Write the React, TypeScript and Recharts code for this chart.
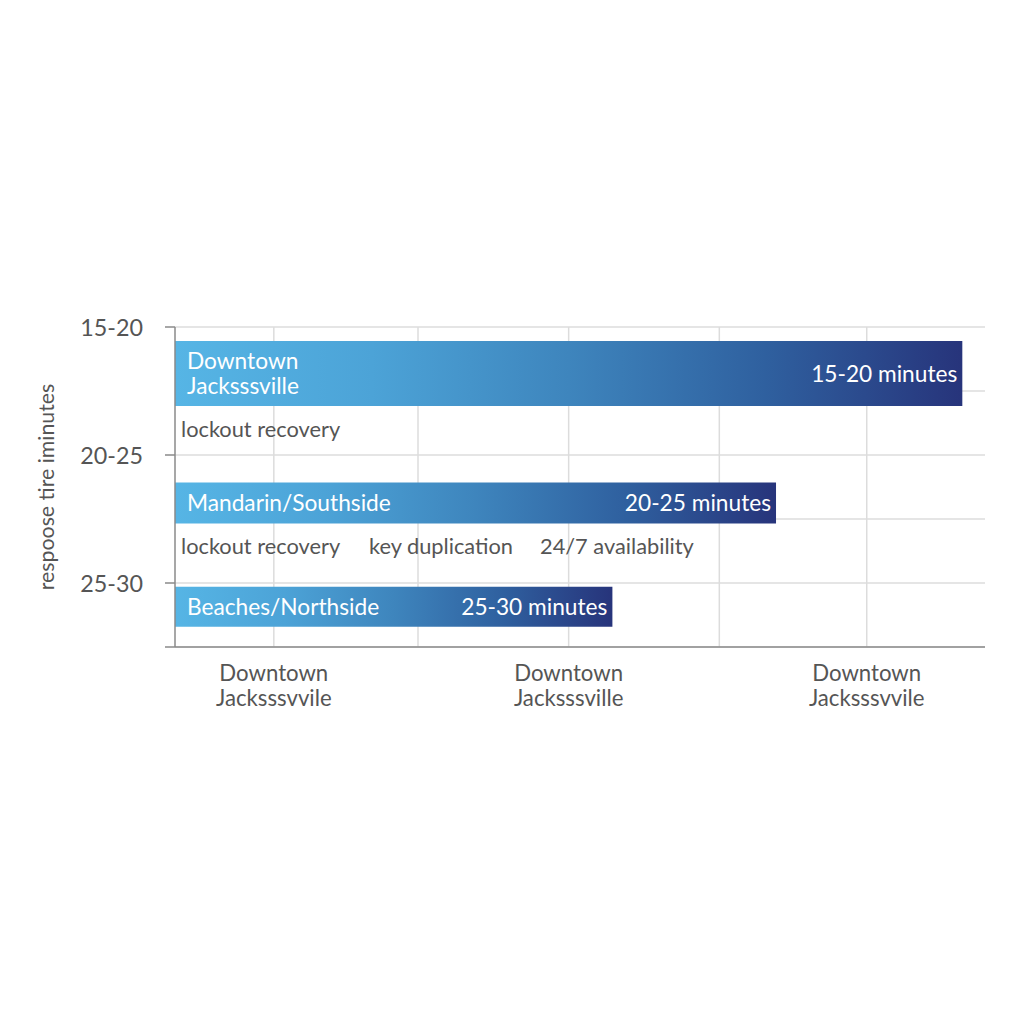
import {
  ComposedChart,
  Bar,
  Scatter,
  XAxis,
  YAxis,
  CartesianGrid,
  LabelList,
} from "recharts";

// areas, drawn top to bottom
const areas = ["Downtown\nJacksssville", "Mandarin/Southside", "Beaches/Northside"];
const responseLabels = ["15-20 minutes", "20-25 minutes", "25-30 minutes"];
const coverage = [97.2, 74.2, 54.0];
const rowPosition = [16.82, 21.88, 25.92];

// y axis (response time) ticks and their labels
const yTicks = [15, 17.5, 20, 22.5, 25, 27.5];
const yTickLabels: Record<number, string> = { 15: "15-20", 20: "20-25", 25: "25-30" };

// x axis ticks and labels
const xDomain = [0, 100];
const xTicks = [12.2, 30, 48.6, 67.2, 85.4];
const xTickLabels = [
  "Downtown\nJacksssvvile",
  "",
  "Downtown\nJacksssville",
  "",
  "Downtown\nJacksssvvile",
];

// service notes written under the bars
const serviceNames = ["lockout recovery", "lockout recovery", "key duplication", "24/7 availability"];
const serviceX = [0.74, 0.74, 23.95, 45.06];
const serviceY = [18.98, 23.52, 23.52, 23.52];

const barThickness = [65, 41, 40];

const FONT = "Lato, 'Open Sans', sans-serif";
const TEXT = "#555555";
const AXIS = "#8a8a8a";
const GRID = "#dcdcdc";

const rows = areas.map((area, i) => ({
  area,
  time: responseLabels[i],
  row: rowPosition[i],
  [`v${i}`]: coverage[i],
}));

const services = serviceNames.map((name, i) => ({
  name,
  value: serviceX[i],
  row: serviceY[i],
}));

const YTick = (props: any) => {
  const { x, y, payload } = props;
  const label = yTickLabels[payload.value];
  const showLine = label !== undefined || payload.value === 27.5;
  return (
    <g>
      {showLine && <line x1={x + 22} x2={x + 32} y1={y} y2={y} stroke={AXIS} strokeWidth={1.5} />}
      {label && (
        <text x={x} y={y} textAnchor="end" dominantBaseline="central" fill={TEXT} fontSize={23.3} fontFamily={FONT}>
          {label}
        </text>
      )}
    </g>
  );
};

const XTick = (props: any) => {
  const { x, y, index } = props;
  const label = xTickLabels[index] || "";
  if (!label) return null;
  const lines = label.split("\n");
  return (
    <text x={x} y={y} textAnchor="middle" fill={TEXT} fontSize={22.2} fontFamily={FONT}>
      {lines.map((line, i) => (
        <tspan key={i} x={x} dy={25} dominantBaseline="central">
          {line}
        </tspan>
      ))}
    </text>
  );
};

const AreaLabel = (props: any) => {
  const { x, y, height, value } = props;
  if (value === undefined || value === null) return null;
  const lines = String(value).split("\n");
  const cy = y + height / 2;
  const lh = 25;
  const start = cy - ((lines.length - 1) * lh) / 2;
  return (
    <text fill="#ffffff" fontSize={22.7} fontFamily={FONT}>
      {lines.map((line, i) => (
        <tspan key={i} x={x + 12} y={start + i * lh} dominantBaseline="central">
          {line}
        </tspan>
      ))}
    </text>
  );
};

const TimeLabel = (props: any) => {
  const { x, y, width, height, value } = props;
  if (!value) return null;
  return (
    <text
      x={x + width - 5}
      y={y + height / 2}
      textAnchor="end"
      dominantBaseline="central"
      fill="#ffffff"
      fontSize={22.7}
      fontFamily={FONT}
    >
      {value}
    </text>
  );
};

const ServiceText = (props: any) => {
  const { cx, cy, payload } = props;
  return (
    <text x={cx} y={cy} dominantBaseline="central" fill={TEXT} fontSize={21.8} fontFamily={FONT}>
      {payload.name}
    </text>
  );
};

// vertical grid only at the x ticks (no line on the right edge)
const verticalGrid = (args: any) => {
  const xAxis = args?.xAxis;
  if (xAxis && typeof xAxis.scale === "function") return xTicks.map((t) => xAxis.scale(t));
  if (xAxis && xAxis.scale && typeof xAxis.scale.map === "function") return xTicks.map((t) => xAxis.scale.map(t));
  const off = args?.offset;
  if (!off) return [];
  const span = xDomain[1] - xDomain[0];
  return xTicks.map((t) => off.left + ((t - xDomain[0]) / span) * off.width);
};

const App = () => {
  return (
    <div style={{ width: 1008, height: 1000, background: "#ffffff" }}>
      <ComposedChart
        width={1008}
        height={1000}
        data={rows}
        layout="vertical"
        margin={{ top: 319, right: 31, bottom: 331, left: 0 }}
      >
        <defs>
          <linearGradient id="barGrad" x1="0" y1="0" x2="1" y2="0">
            <stop offset="0%" stopColor="#56b5e5" />
            <stop offset="25%" stopColor="#4ca3d7" />
            <stop offset="50%" stopColor="#3e85bd" />
            <stop offset="75%" stopColor="#2f609f" />
            <stop offset="100%" stopColor="#27347b" />
          </linearGradient>
        </defs>
        <CartesianGrid
          yAxisId="main"
          stroke={GRID}
          strokeWidth={1.5}
          verticalCoordinatesGenerator={verticalGrid}
        />
        <XAxis
          type="number"
          domain={xDomain}
          ticks={xTicks}
          tick={<XTick />}
          tickLine={false}
          tickSize={0}
          tickMargin={0}
          axisLine={{ stroke: AXIS, strokeWidth: 1.5 }}
          interval={0}
        />
        <YAxis
          yAxisId="main"
          type="number"
          dataKey="row"
          domain={[15, 27.5]}
          ticks={yTicks}
          interval={0}
          width={167}
          tick={<YTick />}
          tickLine={false}
          tickSize={10}
          tickMargin={22}
          axisLine={{ stroke: AXIS, strokeWidth: 1.5 }}
          allowDataOverflow
          label={{
            content: ({ viewBox }: any) => (
              <text
                x={viewBox.x + 38}
                y={viewBox.y + viewBox.height / 2}
                transform={`rotate(-90 ${viewBox.x + 38} ${viewBox.y + viewBox.height / 2})`}
                textAnchor="middle"
                dominantBaseline="central"
                fill={TEXT}
                fontSize={21.3}
                fontFamily={FONT}
              >
                respoose tire iminutes
              </text>
            ),
          }}
        />
        {areas.map((_, i) => (
          <YAxis
            key={`ax${i}`}
            yAxisId={`r${i}`}
            type="number"
            dataKey="row"
            domain={[15, 27.5]}
            ticks={[15, 27.5]}
            hide
            allowDataOverflow
          />
        ))}
        {areas.map((_, i) => (
          <Bar
            key={`bar${i}`}
            yAxisId={`r${i}`}
            dataKey={`v${i}`}
            barSize={barThickness[i]}
            fill="url(#barGrad)"
            isAnimationActive={false}
          >
            <LabelList dataKey="area" content={<AreaLabel />} />
            <LabelList dataKey="time" content={<TimeLabel />} />
          </Bar>
        ))}
        <Scatter
          yAxisId="main"
          data={services}
          dataKey="value"
          shape={<ServiceText />}
          isAnimationActive={false}
        />
      </ComposedChart>
    </div>
  );
};

export default App;
